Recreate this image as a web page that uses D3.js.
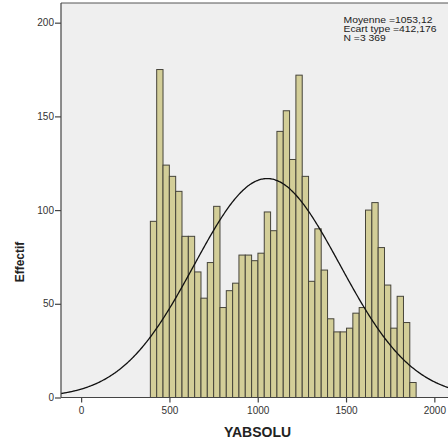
<!DOCTYPE html>
<html>
<head>
<meta charset="utf-8">
<script src="https://cdn.jsdelivr.net/npm/d3@7/dist/d3.min.js"></script>
<style>
  html, body { margin: 0; padding: 0; background: #ffffff; }
  svg { display: block; font-family: "Liberation Sans", Arial, sans-serif; }
</style>
</head>
<body>
<svg id="chart" width="448" height="448"></svg>
<script>
// ---- Data ----
const binStart = 392;       // lower edge of first bin (YABSOLU)
const binWidth = 35.83;     // bin width
const counts = [94, 175, 124, 118, 110, 86, 86, 67, 53, 72, 102, 48, 57, 61,
                76, 76, 73, 77, 99, 89, 142, 153, 127, 172, 118, 62, 90, 68,
                42, 35, 35, 37, 45, 48, 100, 104, 80, 60, 37, 54, 40, 8];
const stats = { mean: 1053.12, sd: 412.176, n: 3369 };
const statLabels = ["Moyenne =1053,12", "Ecart type =412,176", "N =3 369"];
const xTicks = [0, 500, 1000, 1500, 2000];
const yTicks = [0, 50, 100, 150, 200];
const xTitle = "YABSOLU";
const yTitle = "Effectif";

// ---- Layout ----
const svg = d3.select("#chart");
const L = 61, T = 3, B = 397.5, R = 452;
const x = d3.scaleLinear().domain([-114, 2100]).range([L, R]);
const y = d3.scaleLinear().domain([0, 210.5]).range([B, T]);

svg.append("defs").append("clipPath").attr("id", "clip")
  .append("rect").attr("x", L).attr("y", T).attr("width", R - L).attr("height", B - T);

// plot background
svg.append("rect").attr("x", L).attr("y", T).attr("width", R - L).attr("height", B - T)
  .attr("fill", "#efefef");

// top frame
svg.append("line").attr("x1", L).attr("x2", R).attr("y1", T).attr("y2", T)
  .attr("stroke", "#555").attr("stroke-width", 1);

const plot = svg.append("g").attr("clip-path", "url(#clip)");

// bars
const bins = counts.map((c, i) => ({ x0: binStart + i * binWidth, x1: binStart + (i + 1) * binWidth, c }));
plot.selectAll("rect.bar").data(bins).enter().append("rect")
  .attr("class", "bar")
  .attr("x", d => x(d.x0))
  .attr("width", d => x(d.x1) - x(d.x0))
  .attr("y", d => y(d.c))
  .attr("height", d => y(0) - y(d.c))
  .attr("fill", "#d3ce98")
  .attr("stroke", "#46443a")
  .attr("stroke-width", 1);

// normal curve
const pts = d3.range(-114, 2101, 5).map(v => {
  const z = (v - stats.mean) / stats.sd;
  return [v, stats.n * binWidth / (stats.sd * Math.sqrt(2 * Math.PI)) * Math.exp(-0.5 * z * z)];
});
plot.append("path").datum(pts)
  .attr("d", d3.line().x(d => x(d[0])).y(d => y(d[1])).curve(d3.curveBasis))
  .attr("fill", "none").attr("stroke", "#111").attr("stroke-width", 1.3);

// axes
const fmt = d3.format("d");
const yAxis = svg.append("g").attr("transform", `translate(${L},0)`)
  .call(d3.axisLeft(y).tickValues(yTicks).tickFormat(fmt).tickSize(6).tickPadding(1).tickSizeOuter(0));
const xAxis = svg.append("g").attr("transform", `translate(0,${B})`)
  .call(d3.axisBottom(x).tickValues(xTicks).tickFormat(fmt).tickSize(5).tickPadding(4).tickSizeOuter(0));
[yAxis, xAxis].forEach(g => {
  g.select(".domain").attr("stroke", "#444").attr("stroke-width", 1.2);
  g.selectAll(".tick line").attr("stroke", "#444").attr("stroke-width", 1.2);
  g.selectAll(".tick text").attr("fill", "#333").style("font-size", "10px")
    .style("font-family", "'Liberation Sans', Arial, sans-serif");
});
xAxis.select(".domain").attr("d", `M${L},0H${R}`);
yAxis.select(".domain").attr("d", `M0,${T}V${B}`);

// stats box text
const st = svg.append("g").attr("transform", "translate(343.5,0) scale(1.08,1)");
st.selectAll("text").data(statLabels).enter().append("text")
  .attr("x", 0).attr("y", (d, i) => 23 + i * 9.2)
  .style("font-size", "9.6px").attr("fill", "#222").text(d => d);

// axis titles
svg.append("text").attr("x", 257.5).attr("y", 437)
  .attr("text-anchor", "middle").style("font-size", "14px").style("font-weight", "bold")
  .attr("fill", "#222").text(xTitle);
svg.append("text").attr("transform", "translate(24,262) rotate(-90)")
  .attr("text-anchor", "middle").style("font-size", "12px").style("font-weight", "bold")
  .attr("fill", "#222").text(yTitle);
</script>
</body>
</html>
